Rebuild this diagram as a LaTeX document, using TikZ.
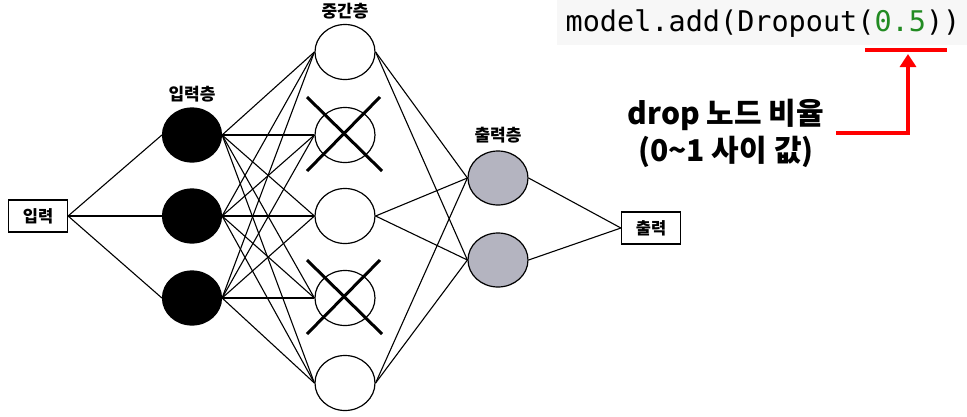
\documentclass[tikz,border=0pt]{standalone}
\usepackage{fontspec}
\setmainfont{Noto Sans CJK KR}
\newfontfamily\codefont{DejaVu Sans Mono}
\usepackage{tikz}
\usetikzlibrary{calc}
\usetikzlibrary{arrows.meta}
\usetikzlibrary{shapes.geometric}
\usetikzlibrary{positioning}
\definecolor{outgray}{RGB}{180,180,192}
\definecolor{codebg}{RGB}{247,247,247}
\definecolor{codegreen}{RGB}{34,139,34}
\tikzset{inlayer/.style={ellipse,draw=black,fill=black,line width=1.2pt,minimum width=59pt,minimum height=54pt,inner sep=0pt}}
\tikzset{hidlayer/.style={ellipse,draw=black,fill=white,line width=1.2pt,minimum width=60pt,minimum height=55pt,inner sep=0pt}}
\tikzset{outlayer/.style={ellipse,draw=black,fill=outgray,line width=1.2pt,minimum width=60pt,minimum height=54pt,inner sep=0pt}}
\tikzset{iobox/.style={rectangle,draw=black,line width=1.2pt,minimum width=59pt,minimum height=32pt,inner sep=0pt,font=\bfseries\fontsize{16.5}{17}\selectfont}}
\tikzset{layername/.style={inner sep=0pt,font=\bfseries\fontsize{17}{17}\selectfont}}
\tikzset{wire/.style={line width=1.1pt}}
\tikzset{dropx/.style={line width=3pt}}
\tikzset{redline/.style={draw=red,line width=3.5pt}}

\begin{document}
\begin{tikzpicture}[x=1pt,y=-1pt]
\useasboundingbox (0,0) rectangle (967,416);
\fill[codebg] (557,0) rectangle (967,45);

\node (InBox) at (38,216) [iobox] {입력};
\node (OutBox) at (651,228) [iobox] {출력};

\foreach \i / \y in {1/135,2/216,3/298} {
	\node (In\i) at (192,\y) [inlayer] {};
}
\foreach \i / \y in {1/52,2/135,3/216,4/298,5/383} {
	\node (H\i) at (345,\y) [hidlayer] {};
}
\foreach \i / \y in {1/178,2/260} {
	\node (Out\i) at (498,\y) [outlayer] {};
}

\node[above=5pt of In1, layername] (InName) {입력층};
\node[above=5pt of H1, layername] (HName) {중간층};
\node[above=7pt of Out1, layername] (OutName) {출력층};

\foreach \i in {1,2,3} {
	\draw[wire] (InBox.east) -- (In\i.west);
	\foreach \j in {1,...,5} {
		\draw[wire] (In\i.east) -- (H\j.west);
	}
}
\foreach \j in {1,3,5} {
	\foreach \k in {1,2} {
		\draw[wire] (H\j.east) -- (Out\k.west);
	}
}
\foreach \k in {1,2} {
	\draw[wire] (Out\k.east) -- (OutBox.west);
}

% dropped nodes
\foreach \j in {2,4} {
	\draw[dropx] ($ (H\j) + (-38,-38) $) -- ($ (H\j) + (37,36) $);
	\draw[dropx] ($ (H\j) + (35,-38) $) -- ($ (H\j) + (-38,36) $);
}

\node (Code) at (763,31) [anchor=base,inner sep=0pt,font=\codefont\fontsize{28.5}{28.5}\selectfont] {model.add(Dropout(\textcolor{codegreen}{0.5}))};
\coordinate (UlL) at (865,50);
\coordinate (UlR) at (947,50);
\coordinate (Mark) at (908,54);
\draw[redline] (UlL) -- (UlR);

\node (Note) at (726,133) [align=center,inner xsep=12pt,font=\bfseries\fontsize{30}{37}\selectfont] {drop 노드 비율\\(0\textasciitilde1 사이 값)};
\draw[redline,-{Triangle[width=16pt,length=13pt]}] (Note.east) -| (Mark);

\end{tikzpicture}
\end{document}
